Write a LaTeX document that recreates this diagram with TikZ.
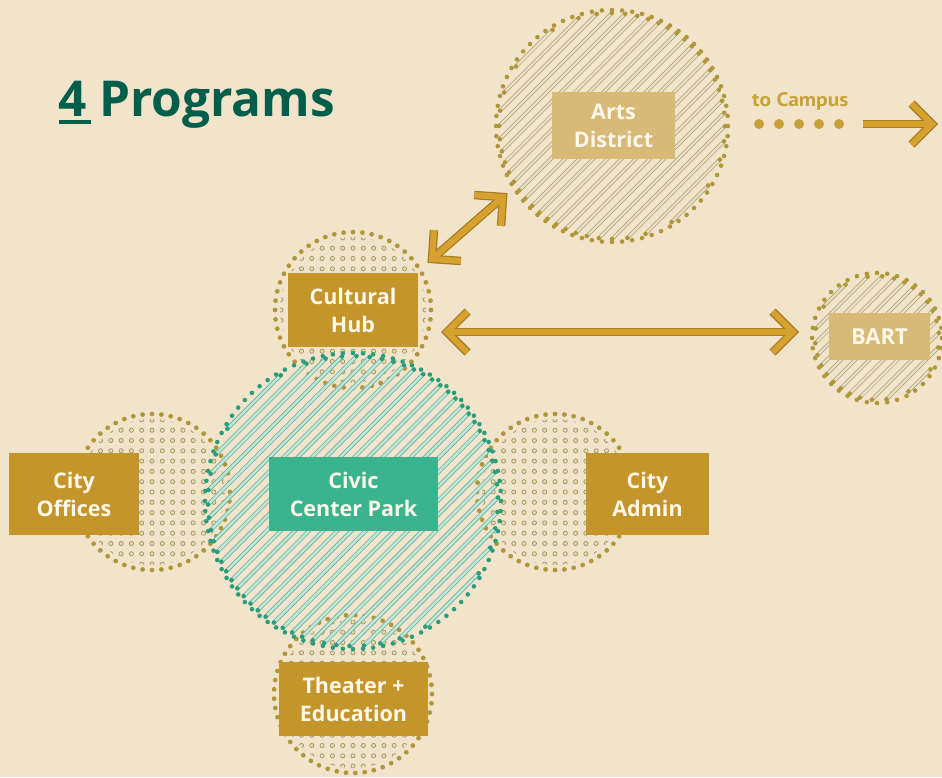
\documentclass[tikz,border=0pt]{standalone}
\usepackage{fontspec}
\setmainfont{Open Sans}
\newfontfamily\campusfont{PT Sans}[FakeStretch=1.1]
\usetikzlibrary{calc}
\definecolor{bg}{HTML}{F2E4CB}
\definecolor{titlegreen}{HTML}{005E4A}
\definecolor{goldbox}{HTML}{C4952A}
\definecolor{lightbox}{HTML}{D8BA78}
\definecolor{tealbox}{HTML}{3BB38F}
\definecolor{labeltext}{HTML}{FFF7E8}
\definecolor{ringgold}{HTML}{B0983A}
\definecolor{ringteal}{HTML}{2A9E7C}
\definecolor{griddotfill}{HTML}{E4DDB6}
\definecolor{griddotdraw}{HTML}{9E9660}
\definecolor{hatchedge}{HTML}{A89C7C}
\definecolor{hatchcore}{HTML}{EAE2BE}
\definecolor{tealedge}{HTML}{6FB09C}
\definecolor{tealcore}{HTML}{BDE7D8}
\definecolor{arrowgold}{HTML}{D6A12E}
\definecolor{arrowedge}{HTML}{A57C22}
\definecolor{campusgold}{HTML}{C9A13A}

\tikzset{
  box/.style={minimum width=#1, inner sep=0pt, align=center, text=labeltext,
    font=\bfseries\fontsize{21.5}{28}\selectfont},
  griddot/.style={fill=griddotfill, draw=griddotdraw, line width=0.7pt},
  goldhatch/.style={draw=hatchedge, double=hatchcore, line width=0.7pt, double distance=2.2pt},
  tealhatch/.style={draw=tealedge, double=tealcore, line width=0.8pt, double distance=2.4pt},
  arrowdark/.style={draw=arrowedge, line width=8.5pt, line join=miter},
  arrowlight/.style={draw=arrowgold, line width=6pt, line join=miter},
}

\newcommand\dotcircle[3]{%
  \pgfmathsetmacro\dcR{#3-7}
  \begin{scope}
    \clip (#1,#2) circle[radius=\dcR];
    \foreach \i in {-8,...,8}{
      \foreach \j in {-8,...,8}{
        \filldraw[griddot] (#1+\i*10.3,#2+\j*10.3) circle[radius=2.1];
      }
    }
  \end{scope}
  \pgfmathtruncatemacro\dcM{2*3.1416*#3/9.5}
  \foreach \k in {1,...,\dcM}{
    \pgfmathsetmacro\dca{\k/\dcM*360}
    \fill[ringgold] ($(#1,#2)+(\dca:#3-2)$) circle[radius=2.4];
  }
}

\newcommand\hatchcircle[5]{%
  \pgfmathsetmacro\hcR{#3-3}
  \pgfmathtruncatemacro\hcN{\hcR/10}
  \pgfmathtruncatemacro\hcNN{2*\hcN}
  \foreach \k in {0,...,\hcNN}{
    \pgfmathsetmacro\hct{(\k-\hcN)*10}
    \pgfmathsetmacro\hcq{\hct/\hcR}
    \pgfmathsetmacro\hch{\hcR*sqrt(max(1-\hcq*\hcq,0))}
    \pgfmathsetmacro\hcax{#1+(\hct-\hch)*0.7071}
    \pgfmathsetmacro\hcay{#2+(\hct+\hch)*0.7071}
    \pgfmathsetmacro\hcbx{#1+(\hct+\hch)*0.7071}
    \pgfmathsetmacro\hcby{#2+(\hct-\hch)*0.7071}
    \draw[#4] (\hcax,\hcay) -- (\hcbx,\hcby);
    \fill[#5] (\hcax,\hcay) circle[radius=2.3];
    \fill[#5] (\hcbx,\hcby) circle[radius=2.3];
  }
  \pgfmathtruncatemacro\hcM{2*3.1416*#3/10}
  \foreach \k in {1,...,\hcM}{
    \pgfmathsetmacro\hca{\k/\hcM*360}
    \fill[#5] ($(#1,#2)+(\hca:#3)$) circle[radius=2.3];
  }
}

\begin{document}
\begin{tikzpicture}[x=1pt,y=-1pt]
\fill[bg] (0,0) rectangle (942,777);
\useasboundingbox (0,0) rectangle (942,777);

% title
\node[anchor=base west, inner sep=0pt, text=titlegreen,
  font=\bfseries\fontsize{49.5}{58}\selectfont] (title) at (58,116) {4 Programs};
\fill[titlegreen] (59,120) rectangle (91,124);

% circles
\dotcircle{353}{310}{80}
\dotcircle{152}{492}{80}
\dotcircle{555}{492}{80}
\dotcircle{353}{694}{81}
\hatchcircle{612}{126}{116}{goldhatch}{ringgold}
\hatchcircle{877}{338}{65}{goldhatch}{ringgold}
\hatchcircle{353}{501}{148}{tealhatch}{ringteal}

% boxes
\node[box=123pt, minimum height=67pt, fill=lightbox] (arts) at (613.5,125.5) {Arts\\District};
\node[box=130pt, minimum height=74pt, fill=goldbox] (hub) at (353,310) {Cultural\\Hub};
\node[box=101pt, minimum height=47pt, fill=lightbox, font=\bfseries\fontsize{22}{28}\selectfont] (bart) at (879.5,336.5) {BART};
\node[box=169pt, minimum height=74pt, fill=tealbox] (park) at (353.5,494) {Civic\\Center Park};
\node[box=130pt, minimum height=82pt, fill=goldbox] (offices) at (74,494) {City\\Offices};
\node[box=123pt, minimum height=82pt, fill=goldbox] (admin) at (647.5,494) {City\\Admin};
\node[box=149pt, minimum height=74pt, fill=goldbox] (theater) at (353.5,699) {Theater +\\Education};

% to campus
\node[anchor=base west, inner sep=0pt, text=campusgold,
  font=\campusfont\bfseries\fontsize{19.5}{22}\selectfont] (campus) at (752,106) {to Campus};
\foreach \x in {759,779,799,819,839}{
  \fill[campusgold] (\x,124) circle[radius=5];
}

% arrow end points
\coordinate (hubE) at (447,332);
\coordinate (bartW) at (793,332);
\coordinate (hubNE) at (432,259);
\coordinate (artsSW) at (503,197);
\coordinate (campusS) at (863,124);
\coordinate (campusT) at (932,124);

\foreach \s in {arrowdark,arrowlight}{
  \draw[\s] (hubE) -- (bartW);
  \draw[\s] ($(hubE)!29pt!45:(bartW)$) -- (hubE) -- ($(hubE)!29pt!-45:(bartW)$);
  \draw[\s] ($(bartW)!29pt!45:(hubE)$) -- (bartW) -- ($(bartW)!29pt!-45:(hubE)$);
  \draw[\s] (hubNE) -- (artsSW);
  \draw[\s] ($(hubNE)!29pt!45:(artsSW)$) -- (hubNE) -- ($(hubNE)!29pt!-45:(artsSW)$);
  \draw[\s] ($(artsSW)!29pt!45:(hubNE)$) -- (artsSW) -- ($(artsSW)!29pt!-45:(hubNE)$);
  \draw[\s] (campusS) -- (campusT);
  \draw[\s] ($(campusT)!29pt!45:(campusS)$) -- (campusT) -- ($(campusT)!29pt!-45:(campusS)$);
}
\end{tikzpicture}
\end{document}
